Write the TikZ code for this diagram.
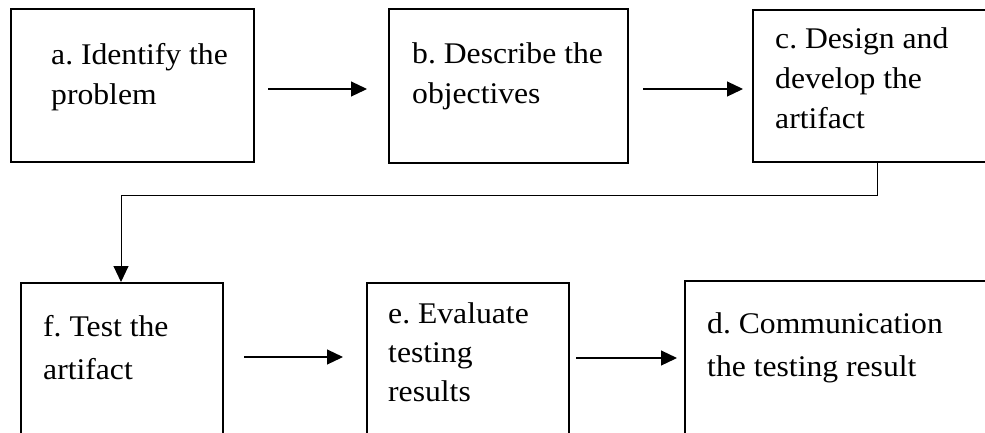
\documentclass[tikz,border=0pt]{standalone}
\usepackage{fontspec}
\setmainfont{Liberation Serif}[FakeStretch=1.055]
\usetikzlibrary{arrows.meta,calc}
\newcommand{\boxlines}[1]{\begin{tabular}[t]{@{}l@{}}#1\end{tabular}}
\frenchspacing
\begin{document}
\begin{tikzpicture}[x=1pt,y=-1pt,
  box/.style={draw,line width=2.2pt,inner sep=0pt,outer sep=0pt,anchor=north west},
  lbl/.style={anchor=base west,inner sep=0pt,font=\fontsize{30}{#1}\selectfont\frenchspacing},
  arr/.style={line width=1.2pt,-{Triangle[length=16pt,width=15pt]}},
  elbow/.style={line width=1pt,-{Triangle[length=16pt,width=15pt]}}]
\useasboundingbox (0,0) rectangle (985,432);
\fill[white] (0,0) rectangle (985,432);
\clip (0,0) rectangle (985,432);
% boxes
\node[box,minimum width=243pt,minimum height=153pt] (a) at (11,9) {};
\node[box,minimum width=239pt,minimum height=154pt] (b) at (389,9) {};
\node[box,minimum width=250pt,minimum height=152pt] (c) at (753,10) {};
\node[box,minimum width=202pt,minimum height=170pt] (f) at (21,283) {};
\node[box,minimum width=202pt,minimum height=170pt] (e) at (367,283) {};
\node[box,minimum width=320pt,minimum height=172pt] (d) at (685,281) {};
% texts
\node[lbl=40] (ta) at (51,64) {\boxlines{a. Identify the\\problem}};
\node[lbl=40] (tb) at (412,63.5) {\boxlines{b. Describe the\\objectives}};
\node[lbl=40] (tc) at (775,48.3) {\boxlines{c. Design and\\develop the\\artifact}};
\node[lbl=42.7] (tf) at (43,336.7) {\boxlines{f. Test the\\artifact}};
\node[lbl=39.2] (te) at (388,323.3) {\boxlines{e. Evaluate\\testing\\results}};
\node[lbl=43.3] (td) at (707,333.3) {\boxlines{d. Communication\\the testing result}};
% connectors
\draw[arr] ($(a.north east)+(14,80)$) -- ($(b.north west)+(-22,80)$);
\draw[arr] ($(b.north east)+(15,80)$) -- ($(c.north west)+(-10,79)$);
\draw[elbow] ($(c.south west)+(124,0)$) -- ++(0,33) -| ($(f.north west)+(100,-1)$);
\draw[arr] ($(f.north west)+(223,74)$) -- ($(e.north west)+(-24,74)$);
\draw[arr] ($(e.north east)+(7,75)$) -- ($(d.north west)+(-8,77)$);
\end{tikzpicture}
\end{document}
